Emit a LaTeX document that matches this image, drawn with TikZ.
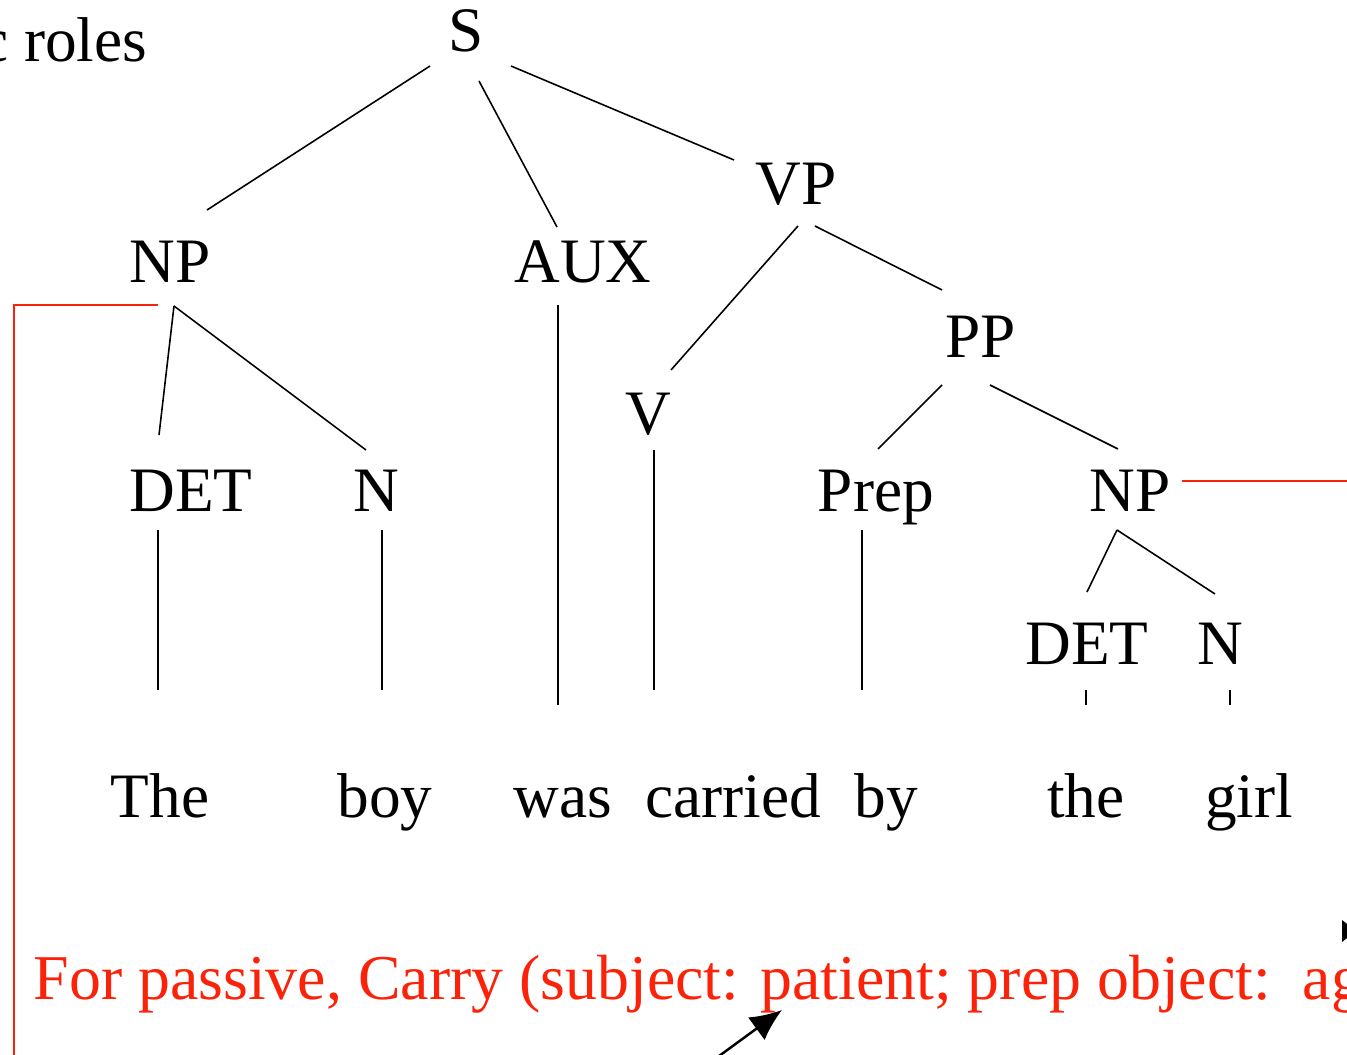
\documentclass[tikz,border=0pt]{standalone}
\usepackage{fontspec}
\setmainfont{Liberation Serif}
\usetikzlibrary{arrows.meta}
\definecolor{slidered}{RGB}{250,35,10}
\begin{document}
\begin{tikzpicture}[x=0.01cm,y=-0.01cm,
  lbl/.style={anchor=base,inner sep=0pt,font=\fontsize{18}{22}\selectfont},
  edge/.style={draw=black,line width=0.45pt},
  redline/.style={draw=slidered,line width=0.6pt}]
\useasboundingbox (0,0) rectangle (1347,1055);
% labels
\node[lbl,anchor=base east] (title) at (148,62) {c roles};
\node[lbl] (S) at (466,52) {S};
\node[lbl] (NP) at (170,283) {NP};
\node[lbl] (AUX) at (583,283) {AUX};
\node[lbl] (VP) at (796,205) {VP};
\node[lbl] (PP) at (981,358) {PP};
\node[lbl] (V) at (648,435) {V};
\node[lbl] (DET) at (191,512) {DET};
\node[lbl] (N) at (376,512) {N};
\node[lbl] (Prep) at (876,512) {Prep};
\node[lbl] (NPb) at (1130,512) {NP};
\node[lbl] (DETb) at (1087,665) {DET};
\node[lbl] (Nb) at (1220,665) {N};
\node[lbl] (w1) at (160,818) {The};
\node[lbl] (w2) at (385,818) {boy};
\node[lbl] (w3) at (563,818) {was};
\node[lbl] (w4) at (733,818) {carried};
\node[lbl] (w5) at (886,818) {by};
\node[lbl] (w6) at (1086,818) {the};
\node[lbl] (w7) at (1249,818) {girl};
\node[lbl,anchor=base west,text=slidered,font=\fontsize{18.15}{22}\selectfont] (note) at (33,1000) {For passive, Carry (subject: patient; prep object:\ \ agent)};
% connector end points
\coordinate (s1) at (430,66);  \coordinate (np1) at (207,210);
\coordinate (s2) at (479,81);  \coordinate (aux1) at (557,227);
\coordinate (s3) at (511,66);  \coordinate (vp1) at (734,160);
\coordinate (vp2) at (798,226); \coordinate (v1) at (671,370);
\coordinate (vp3) at (815,226); \coordinate (pp1) at (942,290);
\coordinate (np2) at (174,306); \coordinate (det1) at (159,435);
\coordinate (n1) at (366,450);
\coordinate (aux2) at (558,305); \coordinate (aux3) at (558,705);
\coordinate (v2) at (654,450); \coordinate (v3) at (654,690);
\coordinate (pp2) at (942,385); \coordinate (prep1) at (878,449);
\coordinate (pp3) at (990,385); \coordinate (npb1) at (1118,449);
\coordinate (det2) at (158,530); \coordinate (det3) at (158,690);
\coordinate (n2) at (382,530); \coordinate (n3) at (382,690);
\coordinate (prep2) at (862,530); \coordinate (prep3) at (862,690);
\coordinate (npb2) at (1117,530); \coordinate (detb1) at (1087,592);
\coordinate (nb1) at (1215,594);
\coordinate (detb2) at (1086,690); \coordinate (detb3) at (1086,705);
\coordinate (nb2) at (1230,690); \coordinate (nb3) at (1230,705);
\coordinate (r1) at (158,305); \coordinate (r2) at (14,305); \coordinate (r3) at (14,1060);
\coordinate (r4) at (1182,481); \coordinate (r5) at (1350,481);
\coordinate (a1) at (715,1059); \coordinate (a2) at (782,1010);
% tree edges
\draw[edge] (s1) -- (np1);
\draw[edge] (s2) -- (aux1);
\draw[edge] (s3) -- (vp1);
\draw[edge] (vp2) -- (v1);
\draw[edge] (vp3) -- (pp1);
\draw[edge] (np2) -- (det1);
\draw[edge] (np2) -- (n1);
\draw[edge] (aux2) -- (aux3);
\draw[edge] (v2) -- (v3);
\draw[edge] (pp2) -- (prep1);
\draw[edge] (pp3) -- (npb1);
\draw[edge] (det2) -- (det3);
\draw[edge] (n2) -- (n3);
\draw[edge] (prep2) -- (prep3);
\draw[edge] (npb2) -- (detb1);
\draw[edge] (npb2) -- (nb1);
\draw[edge] (detb2) -- (detb3);
\draw[edge] (nb2) -- (nb3);
% red brackets
\draw[redline] (r1) -- (r2) -- (r3);
\draw[redline] (r4) -- (r5);
% arrows
\draw[edge,line width=0.7pt,-{Latex[length=9pt,width=8pt]}] (a1) -- (a2);
\fill[black] (1342,920) -- (1356,931) -- (1342,942) -- cycle;
\end{tikzpicture}
\end{document}
